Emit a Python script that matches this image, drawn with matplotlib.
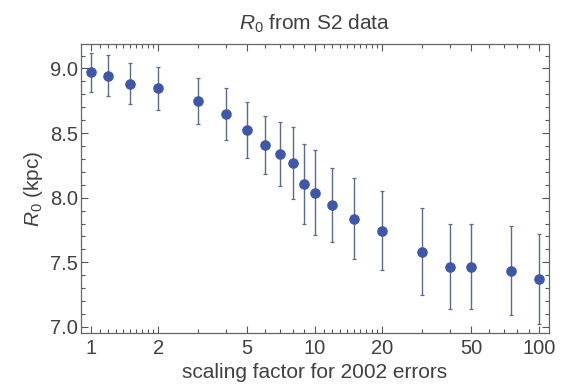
import matplotlib
matplotlib.use("Agg")
import matplotlib.pyplot as plt
from matplotlib.ticker import FixedLocator, NullFormatter, FixedFormatter
import numpy as np

plt.rcParams['font.family'] = ['Liberation Sans', 'DejaVu Sans']
plt.rcParams['mathtext.fontset'] = 'custom'
plt.rcParams['mathtext.rm'] = 'Liberation Sans'
plt.rcParams['mathtext.it'] = 'Liberation Sans:italic'

scale = [1, 1.2, 1.5, 2, 3, 4, 5, 6, 7, 8, 9, 10, 12, 15, 20, 30, 40, 50, 75, 100]
r0 = [8.97, 8.945, 8.883, 8.845, 8.751, 8.646, 8.524, 8.408, 8.336, 8.266, 8.108, 8.04,
      7.943, 7.838, 7.746, 7.582, 7.467, 7.467, 7.434, 7.37]
err = [0.15, 0.16, 0.16, 0.165, 0.177, 0.2, 0.216, 0.226, 0.247, 0.278, 0.31, 0.33,
       0.288, 0.312, 0.308, 0.335, 0.332, 0.332, 0.345, 0.35]
xticks = [1, 2, 5, 10, 20, 50, 100]
xtick_labels = ['1', '2', '5', '10', '20', '50', '100']
yticks = [7.0, 7.5, 8.0, 8.5, 9.0]

text_col = '#404040'
fig = plt.figure(figsize=(5.7, 3.92), dpi=100)
ax = fig.add_axes([0.142, 0.1505, 0.821, 0.7375])

ax.errorbar(scale, r0, yerr=err, fmt='none', ecolor='#5b6b8c', elinewidth=1.0,
            capsize=1.6, capthick=0.9, zorder=2)
ax.plot(scale, r0, 'o', color='#3f57a6', markersize=6.6, zorder=3)

ax.set_xscale('log')
ax.set_xlim(0.905, 111)
ax.set_ylim(6.953, 9.19)

ax.xaxis.set_major_locator(FixedLocator(xticks))
ax.xaxis.set_major_formatter(FixedFormatter(xtick_labels))
minor_x = [1.1, 1.2, 1.3, 1.4, 1.5, 1.6, 1.7, 1.8, 1.9, 3, 4, 6, 7, 8, 9,
           11, 12, 13, 14, 15, 16, 17, 18, 19, 30, 40, 60, 70, 80, 90]
ax.xaxis.set_minor_locator(FixedLocator(minor_x))
ax.xaxis.set_minor_formatter(NullFormatter())
ax.set_yticks(yticks)
ax.set_yticklabels(['7.0', '7.5', '8.0', '8.5', '9.0'])
ax.yaxis.set_minor_locator(FixedLocator(np.round(np.arange(7.0, 9.2, 0.1), 2)))

ax.tick_params(which='both', direction='in', top=True, right=True, colors='#555555',
               labelcolor=text_col, labelsize=14.5, width=0.8)
ax.tick_params(which='major', length=5)
ax.tick_params(which='minor', length=3)
ax.tick_params(axis='x', pad=4)
ax.tick_params(axis='y', pad=2)
for s in ax.spines.values():
    s.set_color('#666666')
    s.set_linewidth(0.9)

ax.set_xlabel('scaling factor for 2002 errors', fontsize=15, color=text_col, labelpad=4)
ax.set_ylabel(r'$R_0$ (kpc)', fontsize=15, color=text_col, labelpad=4)
ax.set_title(r'$R_0$ from S2 data', fontsize=15, color=text_col, pad=10)

fig.savefig('out.png', dpi=100)
